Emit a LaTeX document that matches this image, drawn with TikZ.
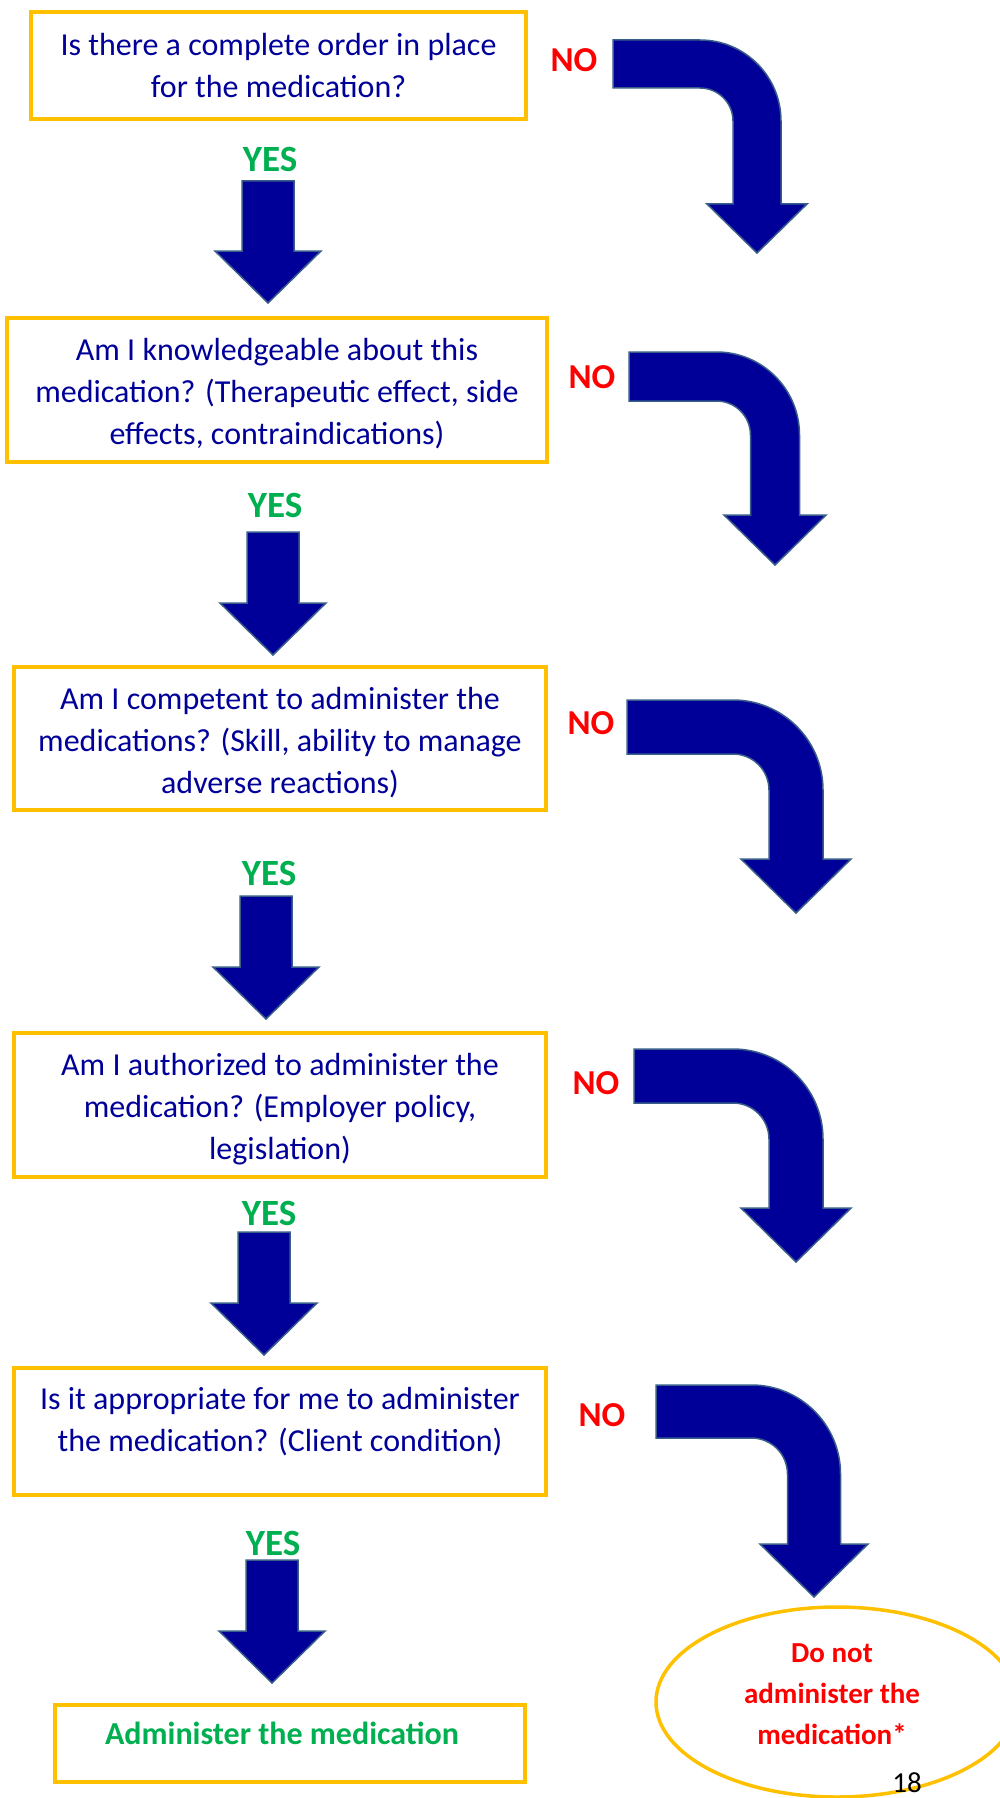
\documentclass[tikz,border=0pt]{standalone}
\usepackage{fontspec}
\setmainfont{Carlito}
\usepackage{xcolor}
\usetikzlibrary{shapes.geometric}

\definecolor{boxgold}{HTML}{FFC000}
\definecolor{qblue}{HTML}{000099}
\definecolor{arrowfill}{HTML}{000099}
\definecolor{arrowline}{HTML}{385D8A}
\definecolor{yesgreen}{HTML}{00B050}
\definecolor{nored}{HTML}{FF0000}

\begin{document}
\begin{tikzpicture}[x=1pt,y=-1pt,
  qbox/.style={draw=boxgold,line width=3.5pt,inner sep=0pt},
  qtext/.style={text=qblue,align=center,font=\fontsize{32}{42}\selectfont},
  yeslabel/.style={text=yesgreen,font=\fontsize{37}{42}\selectfont\bfseries},
  nolabel/.style={text=nored,font=\fontsize{35}{40}\selectfont\bfseries},
  blockarrow/.style={fill=arrowfill,draw=arrowline,line width=1.5pt,line join=miter}]

\useasboundingbox (0,0) rectangle (1000,1798);

% Question boxes
\node[qbox,minimum width=495,minimum height=107] (q1) at (278.5,65.5) {};
\node[qtext] (q1text) at (278.5,66) {Is there a complete order in place\\for the medication?};

\node[qbox,minimum width=540,minimum height=144] (q2) at (277,390) {};
\node[qtext] (q2text) at (277,394) {Am I knowledgeable about this\\medication? (Therapeutic effect, side\\effects, contraindications)};

\node[qbox,minimum width=532,minimum height=143] (q3) at (280,738.5) {};
\node[qtext] (q3text) at (280,743) {Am I competent to administer the\\medications? (Skill, ability to manage\\adverse reactions)};

\node[qbox,minimum width=532,minimum height=144] (q4) at (280,1105) {};
\node[qtext] (q4text) at (280,1109) {Am I authorized to administer the\\medication? (Employer policy,\\legislation)};

\node[qbox,minimum width=532,minimum height=127] (q5) at (280,1431.5) {};
\node[qtext] (q5text) at (280,1422) {Is it appropriate for me to administer\\the medication? (Client condition)};

% Outcomes
\node[qbox,minimum width=470,minimum height=77] (act) at (290,1743.5) {};
\node[text=yesgreen,font=\fontsize{32}{40}\selectfont\bfseries] (acttext) at (282,1733) {Administer the medication};

\node[ellipse,draw=boxgold,line width=3.5pt,minimum width=362,minimum height=190,inner sep=0pt] (stop) at (837,1702) {};
\node[text=nored,align=center,font=\fontsize{29}{41}\selectfont\bfseries] (stoptext) at (832,1694) {Do not\\administer the\\medication*};
\node[font=\fontsize{29}{35}\selectfont] (pagenum) at (907,1783) {18};

% YES / NO labels
\node[nolabel] (no1) at (574,60) {NO};
\node[nolabel] (no2) at (592,377) {NO};
\node[nolabel] (no3) at (591,723) {NO};
\node[nolabel] (no4) at (596,1083) {NO};
\node[nolabel] (no5) at (602,1415) {NO};

\node[yeslabel] (yes1) at (270,159) {YES};
\node[yeslabel] (yes2) at (275,505) {YES};
\node[yeslabel] (yes3) at (269,873) {YES};
\node[yeslabel] (yes4) at (269,1213) {YES};
\node[yeslabel] (yes5) at (273,1543) {YES};

% Down arrows (YES)
\draw[blockarrow] (242,181) -- ++(52,0) -- ++(0,70) -- ++(27,0) -- ++(-53,52) -- ++(-53,-52) -- ++(27,0) -- cycle;
\draw[blockarrow] (247,532) -- ++(52,0) -- ++(0,71) -- ++(27,0) -- ++(-53,52) -- ++(-53,-52) -- ++(27,0) -- cycle;
\draw[blockarrow] (240,896) -- ++(52,0) -- ++(0,71) -- ++(27,0) -- ++(-53,52) -- ++(-53,-52) -- ++(27,0) -- cycle;
\draw[blockarrow] (238,1232) -- ++(52,0) -- ++(0,71) -- ++(27,0) -- ++(-53,52) -- ++(-53,-52) -- ++(27,0) -- cycle;
\draw[blockarrow] (246,1560) -- ++(52,0) -- ++(0,71) -- ++(27,0) -- ++(-53,52) -- ++(-53,-52) -- ++(27,0) -- cycle;

% Bent arrows (NO)
\draw[blockarrow] (613,40) -- (700,40) arc[start angle=-90,end angle=0,radius=81]
  -- (781,204) -- (807,204) -- (757,253) -- (707,204) -- (733,204)
  -- (733,121) arc[start angle=0,end angle=-90,radius=33] -- (613,88) -- cycle;
\draw[blockarrow] (629,352) -- (716.5,352) arc[start angle=-90,end angle=0,radius=83]
  -- (799.5,515) -- (826,515) -- (775,565) -- (724,515) -- (750.5,515)
  -- (750.5,435) arc[start angle=0,end angle=-90,radius=34] -- (629,401) -- cycle;
\draw[blockarrow] (627,700) -- (733,700) arc[start angle=-90,end angle=0,radius=90]
  -- (823,859) -- (851,859) -- (796,913) -- (741,859) -- (769,859)
  -- (769,790) arc[start angle=0,end angle=-90,radius=36] -- (627,754) -- cycle;
\draw[blockarrow] (634,1049) -- (733,1049) arc[start angle=-90,end angle=0,radius=90]
  -- (823,1208) -- (851,1208) -- (796,1262) -- (741,1208) -- (769,1208)
  -- (769,1139) arc[start angle=0,end angle=-90,radius=36] -- (634,1103) -- cycle;
\draw[blockarrow] (656,1385) -- (751.5,1385) arc[start angle=-90,end angle=0,radius=89]
  -- (840.5,1544) -- (868,1544) -- (814,1597) -- (760,1544) -- (787.5,1544)
  -- (787.5,1474) arc[start angle=0,end angle=-90,radius=36] -- (656,1438) -- cycle;

\end{tikzpicture}
\end{document}
